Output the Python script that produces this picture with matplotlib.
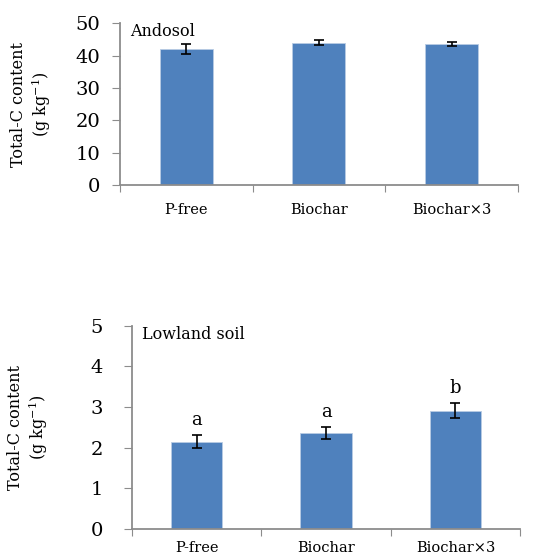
import matplotlib.pyplot as plt

treatments = ['P-free', 'Biochar', 'Biochar×3']

andosol_mean = [42.1, 44.1, 43.6]
andosol_err = [1.6, 0.9, 0.7]

lowland_mean = [2.14, 2.36, 2.91]
lowland_err = [0.16, 0.14, 0.19]
lowland_letters = ['a', 'a', 'b']

plt.rcParams['font.family'] = ['DejaVu Serif']

bar_color = '#4F81BD'
spine_color = '#8c8c8c'


def draw_panel(ax, means, errs, ymax, step, title, ypad, xpad, letters=None):
    x = range(len(treatments))
    ax.bar(x, means, width=0.4, color=bar_color, edgecolor='#b8cce4', linewidth=0.6,
           yerr=errs, error_kw=dict(ecolor='black', elinewidth=1.2, capsize=3.5, capthick=1.2))
    ax.set_xlim(-0.5, len(treatments) - 0.5)
    ax.set_ylim(0, ymax)
    ax.set_yticks([i * step for i in range(int(round(ymax / step)) + 1)])
    # boundary ticks and category labels
    ax.set_xticks([i - 0.5 for i in range(len(treatments) + 1)])
    ax.set_xticklabels([])
    ax.set_xticks(list(x), minor=True)
    ax.set_xticklabels(treatments, minor=True, fontsize=10.5)
    ax.tick_params(axis='x', which='minor', length=0, pad=xpad)
    ax.tick_params(axis='x', which='major', length=5, color=spine_color, direction='out')
    ax.tick_params(axis='y', length=6, color=spine_color, labelsize=14, pad=ypad)
    for s in ['top', 'right']:
        ax.spines[s].set_visible(False)
    for s in ['left', 'bottom']:
        ax.spines[s].set_color(spine_color)
        ax.spines[s].set_linewidth(1.3)
    ax.text(0.025, 1.0, title, transform=ax.transAxes, fontsize=11.5, va='top', ha='left')
    if letters:
        for i, lab in enumerate(letters):
            ax.text(i, means[i] + errs[i] + ymax * 0.03, lab, ha='center', va='bottom', fontsize=13)
    ax.set_ylabel('Total-C content\n(g kg$^{\\mathregular{-1}}$)', fontsize=11.5, linespacing=1.15)


fig = plt.figure(figsize=(5.47, 5.59), dpi=100)
ax1 = fig.add_axes([0.219, 0.669, 0.728, 0.289])
ax2 = fig.add_axes([0.241, 0.054, 0.710, 0.363])

draw_panel(ax1, andosol_mean, andosol_err, 50, 10, 'Andosol', 8, 13)
draw_panel(ax2, lowland_mean, lowland_err, 5, 1, 'Lowland soil', 15, 9, lowland_letters)

ax1.yaxis.set_label_coords(-0.168, 0.5)
ax2.yaxis.set_label_coords(-0.211, 0.5)

fig.savefig('out.png', dpi=100)
